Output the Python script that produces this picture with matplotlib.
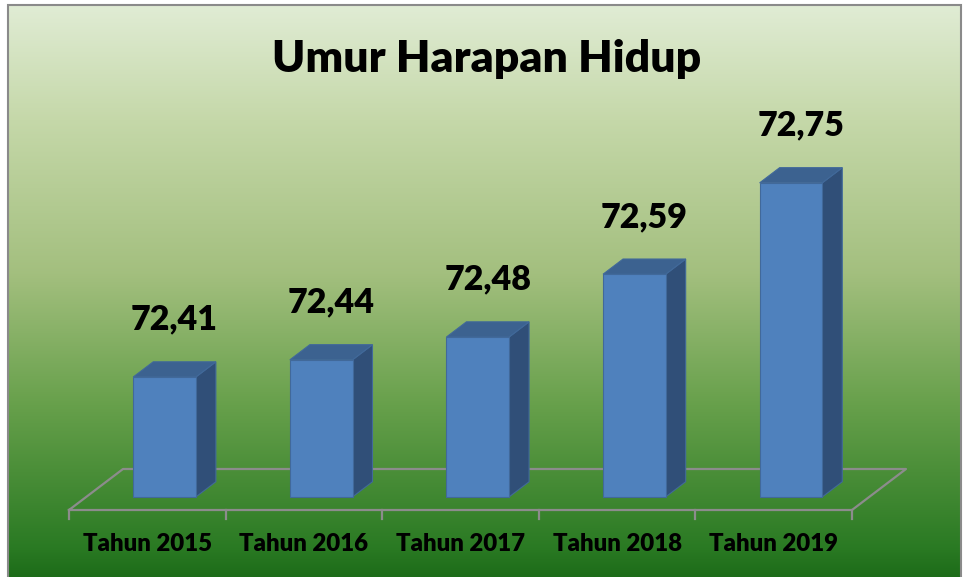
import numpy as np
import matplotlib
matplotlib.use("Agg")
import matplotlib.pyplot as plt
from matplotlib.patches import Polygon, Rectangle
from matplotlib.colors import LinearSegmentedColormap

plt.rcParams['font.family'] = ['Lato', 'DejaVu Sans']

# data
years = ["Tahun 2015", "Tahun 2016", "Tahun 2017", "Tahun 2018", "Tahun 2019"]
uhh = [72.41, 72.44, 72.48, 72.59, 72.75]
labels = ["72,41", "72,44", "72,48", "72,59", "72,75"]
title = "Umur Harapan Hidup"

W, H = 963, 577
fig = plt.figure(figsize=(W / 100, H / 100), dpi=100)
fig.patch.set_facecolor('white')

# gradient background inside the border
bx0, by0, bx1 = 8, 5, 961
bg = fig.add_axes([bx0 / W, 0, (bx1 - bx0) / W, (H - by0) / H])
bg.axis('off')
cmap = LinearSegmentedColormap.from_list('bg', [
    (0.0, '#e0ecd4'), (0.2, '#c5d8a9'), (0.47, '#a3bf7e'),
    (0.7, '#67a04b'), (0.95, '#2a7a23'), (1.0, '#1d6c19')])
grad = np.linspace(0, 1, 256).reshape(-1, 1)
bg.imshow(grad, aspect='auto', cmap=cmap, extent=[0, 1, 0, 1], origin='upper')
bg.set_xlim(0, 1)
bg.set_ylim(0, 1)

# border
fig.add_artist(Rectangle((bx0 / W, -0.01), (bx1 - bx0) / W, (H - by0) / H + 0.01,
                         transform=fig.transFigure, fill=False,
                         edgecolor='#8a8a8a', lw=1.5))

# main axes: front plane of the 3D floor
base = 72.2
ppu = 571.0  # pixels per unit on y
left_px, right_px = 69, 852
floor_px = 510
top_px = 100
ax = fig.add_axes([left_px / W, (H - floor_px) / H,
                   (right_px - left_px) / W, (floor_px - top_px) / H])
ax.set_xlim(-0.5, len(years) - 0.5)
ax.set_ylim(base, base + (floor_px - top_px) / ppu)
ax.axis('off')

cat_px = (right_px - left_px) / len(years)
DX = 54 / cat_px      # depth offset (full floor depth) in x units
DY = 41 / ppu         # depth offset in y units
z0, z1 = 0.32, 0.69   # bar depth range
hw = 0.2

grey = '#8c8c8c'
n = len(years)
# floor outline
fx = [-0.5, n - 0.5, n - 0.5 + DX, -0.5 + DX, -0.5]
fy = [base, base, base + DY, base + DY, base]
ax.plot(fx, fy, color=grey, lw=1.6, clip_on=False, zorder=1)
for t in np.arange(-0.5, n, 1.0):
    ax.plot([t, t], [base, base - 9 / ppu], color=grey, lw=1.6, clip_on=False, zorder=1)

front_c = '#4f81bd'
side_c = '#304f78'
top_c = '#3c6290'
edge_c = '#41699a'

for i, v in enumerate(uhh):
    x0, x1 = i - hw, i + hw
    fxo, fyo = z0 * DX, z0 * DY
    bxo, byo = z1 * DX, z1 * DY
    front = Rectangle((x0 + fxo, base + fyo), x1 - x0, v - base,
                      facecolor=front_c, edgecolor=edge_c, lw=0.8, zorder=3)
    side = Polygon([(x1 + fxo, base + fyo), (x1 + bxo, base + byo),
                    (x1 + bxo, v + byo), (x1 + fxo, v + fyo)],
                   facecolor=side_c, edgecolor=edge_c, lw=0.8, zorder=2)
    top = Polygon([(x0 + fxo, v + fyo), (x1 + fxo, v + fyo),
                   (x1 + bxo, v + byo), (x0 + bxo, v + byo)],
                  facecolor=top_c, edgecolor=edge_c, lw=0.8, zorder=2)
    for p in (side, top, front):
        p.set_clip_on(False)
        ax.add_patch(p)
    ax.text(i + (z0 + z1) / 2 * DX, v + byo + 42 / ppu, labels[i],
            ha='center', va='center', fontsize=24.5, fontweight='heavy',
            color='black', clip_on=False)
    ax.text(i, base - 34 / ppu, years[i], ha='center', va='center',
            fontsize=17.3, fontweight='heavy', color='black', clip_on=False)

fig.text(487 / W, 1 - 59 / H, title, ha='center', va='center',
         fontsize=32, fontweight='heavy', color='black')

fig.savefig('out.png', dpi=100)
